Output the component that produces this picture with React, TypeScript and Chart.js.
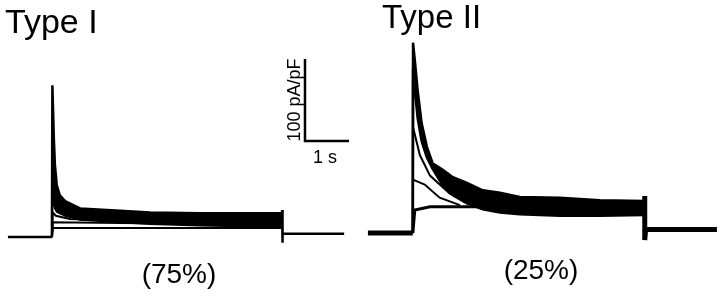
import React, { useEffect, useRef } from "react";
import { Chart, registerables } from "chart.js";

Chart.register(...registerables);

// ---------- DATA (time in s from pulse onset, current in pA/pF) ----------
// Type I
const T1_PRE_T = [-1.0, 0];
const T1_PRE_I = [0, 0];
const T1_POST_T = [5.23, 5.23, 5.25, 6.64];
const T1_POST_I = [33, -7, 4, 4];
const T1_MAIN_T = [0, 0.01, 0.045, 0.068, 0.11, 0.18, 0.3, 0.64, 1.55, 2.23, 3.36, 4.5, 5.23];
const T1_MAIN_TOP = [0, 185, 118, 88, 63, 51, 44, 35, 32, 30, 29, 29, 29];
const T1_MAIN_BOTTOM = [0, 60, 40, 35, 31, 29, 26, 21, 18, 16, 14, 13, 12];
const T1_A_T = [0, 0.02, 0.09, 0.41, 2.23, 5.23];
const T1_A_I = [0, 30, 26, 22, 18, 16];
const T1_B_T = [0, 0.02, 5.23];
const T1_B_I = [0, 18, 15];
const T1_C_T = [0, 0.02, 1.1, 5.23];
const T1_C_I = [0, 11, 11, 11];

// Type II
const T2_PRE_T = [-1.02, 0];
const T2_PRE_I = [0, 0];
const T2_POST_T = [5.27, 5.27, 5.29, 6.91];
const T2_POST_I = [45, -8.5, 4.3, 4.3];
const T2_MAIN_T = [0, 0.005, 0.045, 0.11, 0.2, 0.32, 0.45, 0.68, 0.91, 1.23, 1.59, 1.98, 2.43, 3.34, 4.25, 5.27];
const T2_MAIN_TOP = [0, 232, 211, 174, 134, 105, 85, 77, 68, 61, 52, 49, 44, 43, 40, 39];
const T2_MAIN_BOTTOM = [0, 200, 175, 140, 112, 92, 78, 58, 46, 36, 29, 25, 23, 21, 21, 22];
const T2_P2_T = [0, 0.005, 0.16, 0.39, 0.84, 1.3];
const T2_P2_I = [0, 129, 95, 70, 48, 38];
const T2_P3_T = [0, 0.005, 0.27, 0.61, 1.07];
const T2_P3_I = [0, 65, 59, 43, 34];
const T2_P4_T = [0, 0.045, 0.39, 1.52, 3.34, 5.27];
const T2_P4_I = [0, 28, 32, 32, 28, 28];

// Scale bar: 1 s x 100 pA/pF
const SCALE_T = [5.75, 5.75, 6.75];
const SCALE_I = [217, 117, 117];
const SCALE_Y_LABEL = "100 pA/pF";
const SCALE_X_LABEL = "1 s";

const TITLES = ["Type I", "Type II"];
const PERCENTS = ["(75%)", "(25%)"];

const FONT = '"Liberation Sans", Arial, Helvetica, sans-serif';

function pts(t: number[], v: number[]) {
  return t.map((x, i) => ({ x, y: v[i] }));
}

function line(t: number[], v: number[], w: number, extra: any = {}) {
  return {
    data: pts(t, v),
    borderColor: "#000",
    backgroundColor: "#000",
    borderWidth: w,
    pointRadius: 0,
    tension: 0,
    fill: false,
    borderJoinStyle: "miter",
    ...extra,
  };
}

type PanelCfg = {
  xMin: number;
  xMax: number;
  yMin: number;
  yMax: number;
  datasets: any[];
  title: string;
  titleX: number;
  titleY: number;
  titleSize: number;
  pct: string;
  pctX: number;
  pctY: number;
  scaleBar: boolean;
};

function Panel({ cfg }: { cfg: PanelCfg }) {
  const ref = useRef<HTMLCanvasElement | null>(null);
  useEffect(() => {
    if (!ref.current) return;
    const textPlugin = {
      id: "panelText",
      afterDraw(chart: any) {
        const ctx = chart.ctx;
        ctx.save();
        ctx.fillStyle = "#000";
        ctx.textBaseline = "alphabetic";
        ctx.font = `${cfg.titleSize}px ${FONT}`;
        ctx.textAlign = "left";
        ctx.fillText(cfg.title, cfg.titleX, cfg.titleY);
        ctx.font = `28px ${FONT}`;
        ctx.textAlign = "center";
        ctx.fillText(cfg.pct, cfg.pctX, cfg.pctY);
        if (cfg.scaleBar) {
          const xs = chart.scales.x;
          const ys = chart.scales.y;
          const bx = xs.getPixelForValue(SCALE_T[0]);
          const byTop = ys.getPixelForValue(SCALE_I[0]);
          const byBot = ys.getPixelForValue(SCALE_I[1]);
          const bxEnd = xs.getPixelForValue(SCALE_T[2]);
          ctx.font = `18px ${FONT}`;
          ctx.save();
          ctx.translate(bx - 5, (byTop + byBot) / 2);
          ctx.rotate(-Math.PI / 2);
          ctx.textAlign = "center";
          ctx.fillText(SCALE_Y_LABEL, 0, 0);
          ctx.restore();
          ctx.textAlign = "center";
          ctx.fillText(SCALE_X_LABEL, (bx + bxEnd) / 2 - 2, byBot + 22);
        }
        ctx.restore();
      },
    };
    const chart = new Chart(ref.current, {
      type: "line",
      data: { datasets: cfg.datasets },
      options: {
        animation: false,
        responsive: false,
        devicePixelRatio: 1,
        layout: { padding: 0 },
        scales: {
          x: { type: "linear", display: false, min: cfg.xMin, max: cfg.xMax },
          y: { type: "linear", display: false, min: cfg.yMin, max: cfg.yMax },
        },
        plugins: { legend: { display: false }, tooltip: { enabled: false } },
        elements: { point: { radius: 0 } },
      } as any,
      plugins: [textPlugin],
    });
    return () => chart.destroy();
  }, []);
  return <canvas ref={ref} width={360} height={297} style={{ display: "block" }} />;
}

export default function App() {
  const left: PanelCfg = {
    xMin: -1.18,
    xMax: 7.0,
    yMin: -73,
    yMax: 289,
    datasets: [
      line(T1_PRE_T, T1_PRE_I, 2.5),
      line(T1_POST_T, T1_POST_I, 2.5),
      line(T1_MAIN_T, T1_MAIN_TOP, 2.5),
      line(T1_MAIN_T, T1_MAIN_BOTTOM, 2, { fill: "-1" }),
      line(T1_A_T, T1_A_I, 2),
      line(T1_B_T, T1_B_I, 2),
      line(T1_C_T, T1_C_I, 2),
      line(SCALE_T, SCALE_I, 2.5),
    ],
    title: TITLES[0],
    titleX: 5,
    titleY: 33,
    titleSize: 34,
    pct: PERCENTS[0],
    pctX: 179,
    pctY: 283,
    scaleBar: true,
  };
  const right: PanelCfg = {
    xMin: -1.2,
    xMax: 6.98,
    yMin: -78,
    yMax: 284,
    datasets: [
      line(T2_PRE_T, T2_PRE_I, 5),
      line(T2_POST_T, T2_POST_I, 5),
      line(T2_MAIN_T, T2_MAIN_TOP, 2.5),
      line(T2_MAIN_T, T2_MAIN_BOTTOM, 2.5, { fill: "-1" }),
      line(T2_P2_T, T2_P2_I, 2),
      line(T2_P3_T, T2_P3_I, 2),
      line(T2_P4_T, T2_P4_I, 3),
    ],
    title: TITLES[1],
    titleX: 22,
    titleY: 28,
    titleSize: 33,
    pct: PERCENTS[1],
    pctX: 181,
    pctY: 279,
    scaleBar: false,
  };
  return (
    <div
      style={{
        position: "absolute",
        left: 0,
        top: 0,
        width: 720,
        height: 297,
        display: "flex",
        background: "#fff",
      }}
    >
      <Panel cfg={left} />
      <Panel cfg={right} />
    </div>
  );
}
